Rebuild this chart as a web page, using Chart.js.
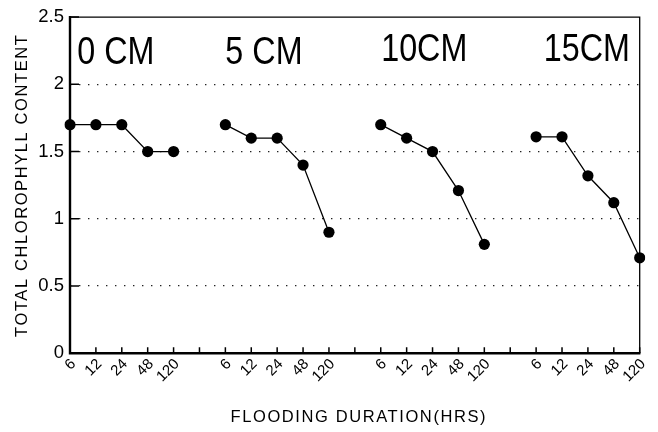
<!DOCTYPE html>
<html><head><meta charset="utf-8">
<script src="https://cdn.jsdelivr.net/npm/chart.js@4.4.1/dist/chart.umd.min.js"></script>
<style>html,body{margin:0;padding:0;background:#fff;overflow:hidden}canvas{display:block}</style>
</head><body>
<canvas id="c" width="658" height="432"></canvas>
<script>
// ---- data ----
const durations = ['6', '12', '24', '48', '120'];
const depthLabels = ['0 CM', '5 CM', '10CM', '15CM'];
const depth0  = [1.7, 1.7, 1.7, 1.5, 1.5];
const depth5  = [1.7, 1.6, 1.6, 1.4, 0.9];
const depth10 = [1.7, 1.6, 1.5, 1.21, 0.81];
const depth15 = [1.61, 1.61, 1.32, 1.12, 0.71];
const yTicks = [0, 0.5, 1, 1.5, 2, 2.5];
const yTitle = 'TOTAL CHLOROPHYLL CONTENT';
const xTitle = 'FLOODING DURATION(HRS)';

// ---- layout (not data) ----
const LAYOUT = {
  groupLabelX: [1.77, 7.49, 13.68, 19.96],
  groupLabelY: [2.152, 2.152, 2.177, 2.177]
};

const series = [depth0, depth5, depth10, depth15];
const categories = [];
series.forEach((s, g) => { if (g > 0) categories.push(''); durations.forEach(d => categories.push(d)); });
const datasets = series.map((s, g) => {
  const data = new Array(categories.length).fill(null);
  s.forEach((v, i) => { data[g * (durations.length + 1) + i] = v; });
  return {
    data, borderColor: '#000', backgroundColor: '#000', pointBackgroundColor: '#000',
    borderWidth: 1.3, pointRadius: 5.6, pointHoverRadius: 5.6, pointBorderWidth: 0,
    spanGaps: false, fill: false, tension: 0
  };
});

const FONT = '"Liberation Sans", Arial, Helvetica, sans-serif';

const framePlugin = {
  id: 'framePlugin',
  beforeDatasetsDraw(chart) {
    const { ctx, chartArea: a, scales: { x, y } } = chart;
    ctx.save();
    ctx.strokeStyle = '#000';
    ctx.lineWidth = 1.5;
    ctx.beginPath();
    x.ticks.forEach((t, i) => { const px = x.getPixelForTick(i); ctx.moveTo(px, a.bottom); ctx.lineTo(px, a.bottom - 6); });
    y.ticks.forEach((t, i) => { const py = y.getPixelForTick(i); ctx.moveTo(a.left, py); ctx.lineTo(a.left + 9, py); });
    ctx.stroke();
    ctx.lineWidth = 1.3;
    ctx.beginPath(); ctx.moveTo(a.left, a.top); ctx.lineTo(a.right, a.top); ctx.lineTo(a.right, a.bottom); ctx.stroke();
    ctx.lineWidth = 2.4;
    ctx.beginPath(); ctx.moveTo(a.left, a.top - 1); ctx.lineTo(a.left, a.bottom); ctx.lineTo(a.right + 0.7, a.bottom); ctx.stroke();
    ctx.restore();
  },
  afterDraw(chart) {
    const { ctx, chartArea: a, scales: { x, y } } = chart;
    // axis titles
    ctx.save();
    ctx.fillStyle = '#000';
    ctx.font = '16.5px ' + FONT;
    if ('letterSpacing' in ctx) ctx.letterSpacing = '1.6px';
    ctx.textAlign = 'center';
    ctx.textBaseline = 'alphabetic';
    ctx.save();
    ctx.translate(26.7, (a.top + a.bottom) / 2);
    ctx.rotate(-Math.PI / 2);
    ctx.fillText(yTitle, 0, 0);
    ctx.restore();
    ctx.fillText(xTitle, (a.left + a.right) / 2 + 4, 421.7);
    ctx.restore();
    // group labels
    ctx.save();
    ctx.fillStyle = '#000';
    ctx.font = '38px ' + FONT;
    if ('letterSpacing' in ctx) ctx.letterSpacing = '0px';
    ctx.textAlign = 'center';
    ctx.textBaseline = 'alphabetic';
    depthLabels.forEach((t, i) => {
      const px = x.getPixelForValue(LAYOUT.groupLabelX[i]);
      const py = y.getPixelForValue(LAYOUT.groupLabelY[i]);
      ctx.save(); ctx.translate(px, py); ctx.scale(0.85, 1); ctx.fillText(t, 0, 0); ctx.restore();
    });
    ctx.restore();
  }
};

new Chart(document.getElementById('c'), {
  type: 'line',
  data: { labels: categories, datasets },
  plugins: [framePlugin],
  options: {
    responsive: false,
    animation: false,
    events: [],
    layout: { padding: { left: 0, right: 18.3, top: 14.5, bottom: 0 } },
    plugins: { legend: { display: false }, tooltip: { enabled: false } },
    scales: {
      x: {
        type: 'category',
        offset: false,
        grid: { display: false, drawTicks: false },
        border: { display: false },
        ticks: {
          autoSkip: false, minRotation: 45, maxRotation: 45,
          color: '#000', font: { size: 15, family: FONT },
          padding: 2, labelOffset: 3.5
        },
        afterFit(s) { s.height = 78.7; }
      },
      y: {
        min: 0, max: 2.5,
        afterBuildTicks(s) { s.ticks = yTicks.map(v => ({ value: v })); },
        grid: {
          drawTicks: false,
          lineWidth: 1.3,
          color: c => (c.tick && (c.tick.value === 0 || c.tick.value === 2.5)) ? 'rgba(0,0,0,0)' : '#222'
        },
        border: { display: false, dash: [1.4, 7.6], dashOffset: 0 },
        ticks: { color: '#000', font: { size: 18.5, family: FONT }, padding: 6, callback: v => String(v) },
        afterFit(s) { s.width = 70; }
      }
    }
  }
});
</script>
</body></html>
